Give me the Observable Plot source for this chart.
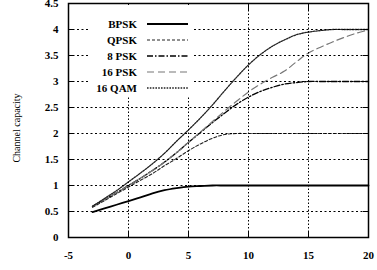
<!DOCTYPE html>
<html>
<head>
<meta charset="utf-8">
<script src="https://cdn.jsdelivr.net/npm/d3@7"></script>
<script src="https://cdn.jsdelivr.net/npm/@observablehq/plot@0.6"></script>
</head>
<body style="margin:0;background:#fff">
<div id="chart" style="position:relative;width:377px;height:270px"></div>
<script>
const snr = [-3,-2,-1,0,1,2,3,4,5,6,7,8,9,10,11,12,13,14,15,16,17,18,19,20];
const bpsk  = [0.49,0.56,0.63,0.70,0.77,0.85,0.91,0.95,0.98,0.99,1.0,1.0,1.0,1.0,1.0,1.0,1.0,1.0,1.0,1.0,1.0,1.0,1.0,1.0];
const qpsk  = [0.58,0.71,0.84,0.97,1.10,1.23,1.38,1.52,1.67,1.80,1.91,1.98,2.0,2.0,2.0,2.0,2.0,2.0,2.0,2.0,2.0,2.0,2.0,2.0];
const psk8  = [0.60,0.73,0.86,1.00,1.14,1.29,1.45,1.63,1.83,2.02,2.21,2.39,2.56,2.70,2.81,2.89,2.95,2.98,3.0,3.0,3.0,3.0,3.0,3.0];
const psk16 = [0.60,0.73,0.86,1.00,1.14,1.29,1.45,1.63,1.83,2.03,2.23,2.43,2.62,2.80,2.95,3.08,3.20,3.38,3.55,3.66,3.76,3.85,3.93,3.99];
const qam16 = [0.60,0.75,0.90,1.07,1.24,1.42,1.62,1.85,2.07,2.30,2.55,2.82,3.08,3.32,3.52,3.68,3.80,3.90,3.95,3.98,4.0,4.0,4.0,4.0];
const seriesNames = ["BPSK","QPSK","8 PSK","16 PSK","16 QAM"];
const seriesValues = [bpsk, qpsk, psk8, psk16, qam16];
const xTicks = [-5,0,5,10,15,20];
const yTicks = [0,0.5,1,1.5,2,2.5,3,3.5,4,4.5];

const styles = {
  "BPSK":   {stroke: "#000", strokeWidth: 1.8, dash: null},
  "QPSK":   {stroke: "#222", strokeWidth: 1.1, dash: "3,2"},
  "8 PSK":  {stroke: "#000", strokeWidth: 1.3, dash: "6,2,1.5,2"},
  "16 PSK": {stroke: "#777", strokeWidth: 1.2, dash: "7,4"},
  "16 QAM": {stroke: "#222", strokeWidth: 1.3, dash: "1.6,1.2"}
};

const rows = [];
seriesNames.forEach((name, i) => {
  snr.forEach((x, j) => rows.push({series: name, x, y: seriesValues[i][j]}));
});

const font = "'Liberation Serif', 'Times New Roman', serif";
const fmt = d => String(d);

const base = {
  width: 377, height: 270,
  marginLeft: 68, marginRight: 9, marginTop: 3, marginBottom: 33,
  x: {domain: [-5, 20]},
  y: {domain: [0, 4.5]}
};

// Layer 1: curves, tick labels, frame
const lineMarks = seriesNames.map(name => Plot.line(rows.filter(d => d.series === name), {
  x: "x", y: "y",
  stroke: styles[name].stroke,
  strokeWidth: styles[name].strokeWidth,
  strokeDasharray: styles[name].dash || "none",
  curve: "catmull-rom"
}));

const main = Plot.plot({
  ...base,
  style: {fontFamily: font, fontSize: "11px", fontWeight: "bold", color: "#000"},
  marks: [
    ...lineMarks,
    Plot.axisX({ticks: xTicks, tickSize: 0, tickPadding: 14, label: null, tickFormat: fmt}),
    Plot.axisY({ticks: yTicks, tickSize: 0, tickPadding: 10, label: null, tickFormat: fmt}),
    Plot.frame({stroke: "#000", strokeWidth: 1.5})
  ]
});

// Layer 2: dotted grid and inward ticks, same scales
const gridPlot = Plot.plot({
  ...base,
  style: {color: "#000"},
  marks: [
    Plot.ruleX(xTicks.slice(1, -1), {stroke: "#000", strokeDasharray: "1.5,2", strokeWidth: 1}),
    Plot.ruleY(yTicks.slice(1, -1), {stroke: "#000", strokeDasharray: "2,2.5", strokeWidth: 1}),
    Plot.axisX({ticks: xTicks, tickSize: 6, dy: -6, tickFormat: () => "", label: null}),
    Plot.axisX({ticks: xTicks, anchor: "top", tickSize: 6, dy: 6, tickFormat: () => "", label: null}),
    Plot.axisY({ticks: yTicks, tickSize: 6, dx: 6, tickFormat: () => "", label: null}),
    Plot.axisY({ticks: yTicks, anchor: "right", tickSize: 6, dx: -6, tickFormat: () => "", label: null})
  ]
});

const chart = document.getElementById("chart");
[main, gridPlot].forEach(p => {
  p.style.position = "absolute";
  p.style.left = "0px";
  p.style.top = "0px";
  p.style.background = "transparent";
  chart.appendChild(p);
});

// y-axis title
const svgMain = d3.select(main);
svgMain.append("text")
  .attr("transform", "translate(20,128) rotate(-90)")
  .attr("text-anchor", "middle")
  .attr("font-family", font)
  .attr("font-size", 10)
  .attr("font-weight", "normal")
  .attr("fill", "#000")
  .text("Channel capacity");

// legend box on the top layer (covers the grid, as in the reference)
const lg = d3.select(gridPlot).append("g");
lg.append("rect").attr("x", 90).attr("y", 5).attr("width", 104).attr("height", 92).attr("fill", "#fff");
seriesNames.forEach((name, i) => {
  const yy = 24 + i * 16;
  lg.append("text")
    .attr("x", 137).attr("y", yy).attr("dy", "0.35em")
    .attr("text-anchor", "end")
    .attr("font-family", font).attr("font-size", 11).attr("font-weight", "bold")
    .attr("fill", "#000")
    .text(name);
  lg.append("line")
    .attr("x1", 147).attr("x2", 188).attr("y1", yy).attr("y2", yy)
    .attr("stroke", styles[name].stroke)
    .attr("stroke-width", styles[name].strokeWidth)
    .attr("stroke-dasharray", styles[name].dash);
});
</script>
</body>
</html>
